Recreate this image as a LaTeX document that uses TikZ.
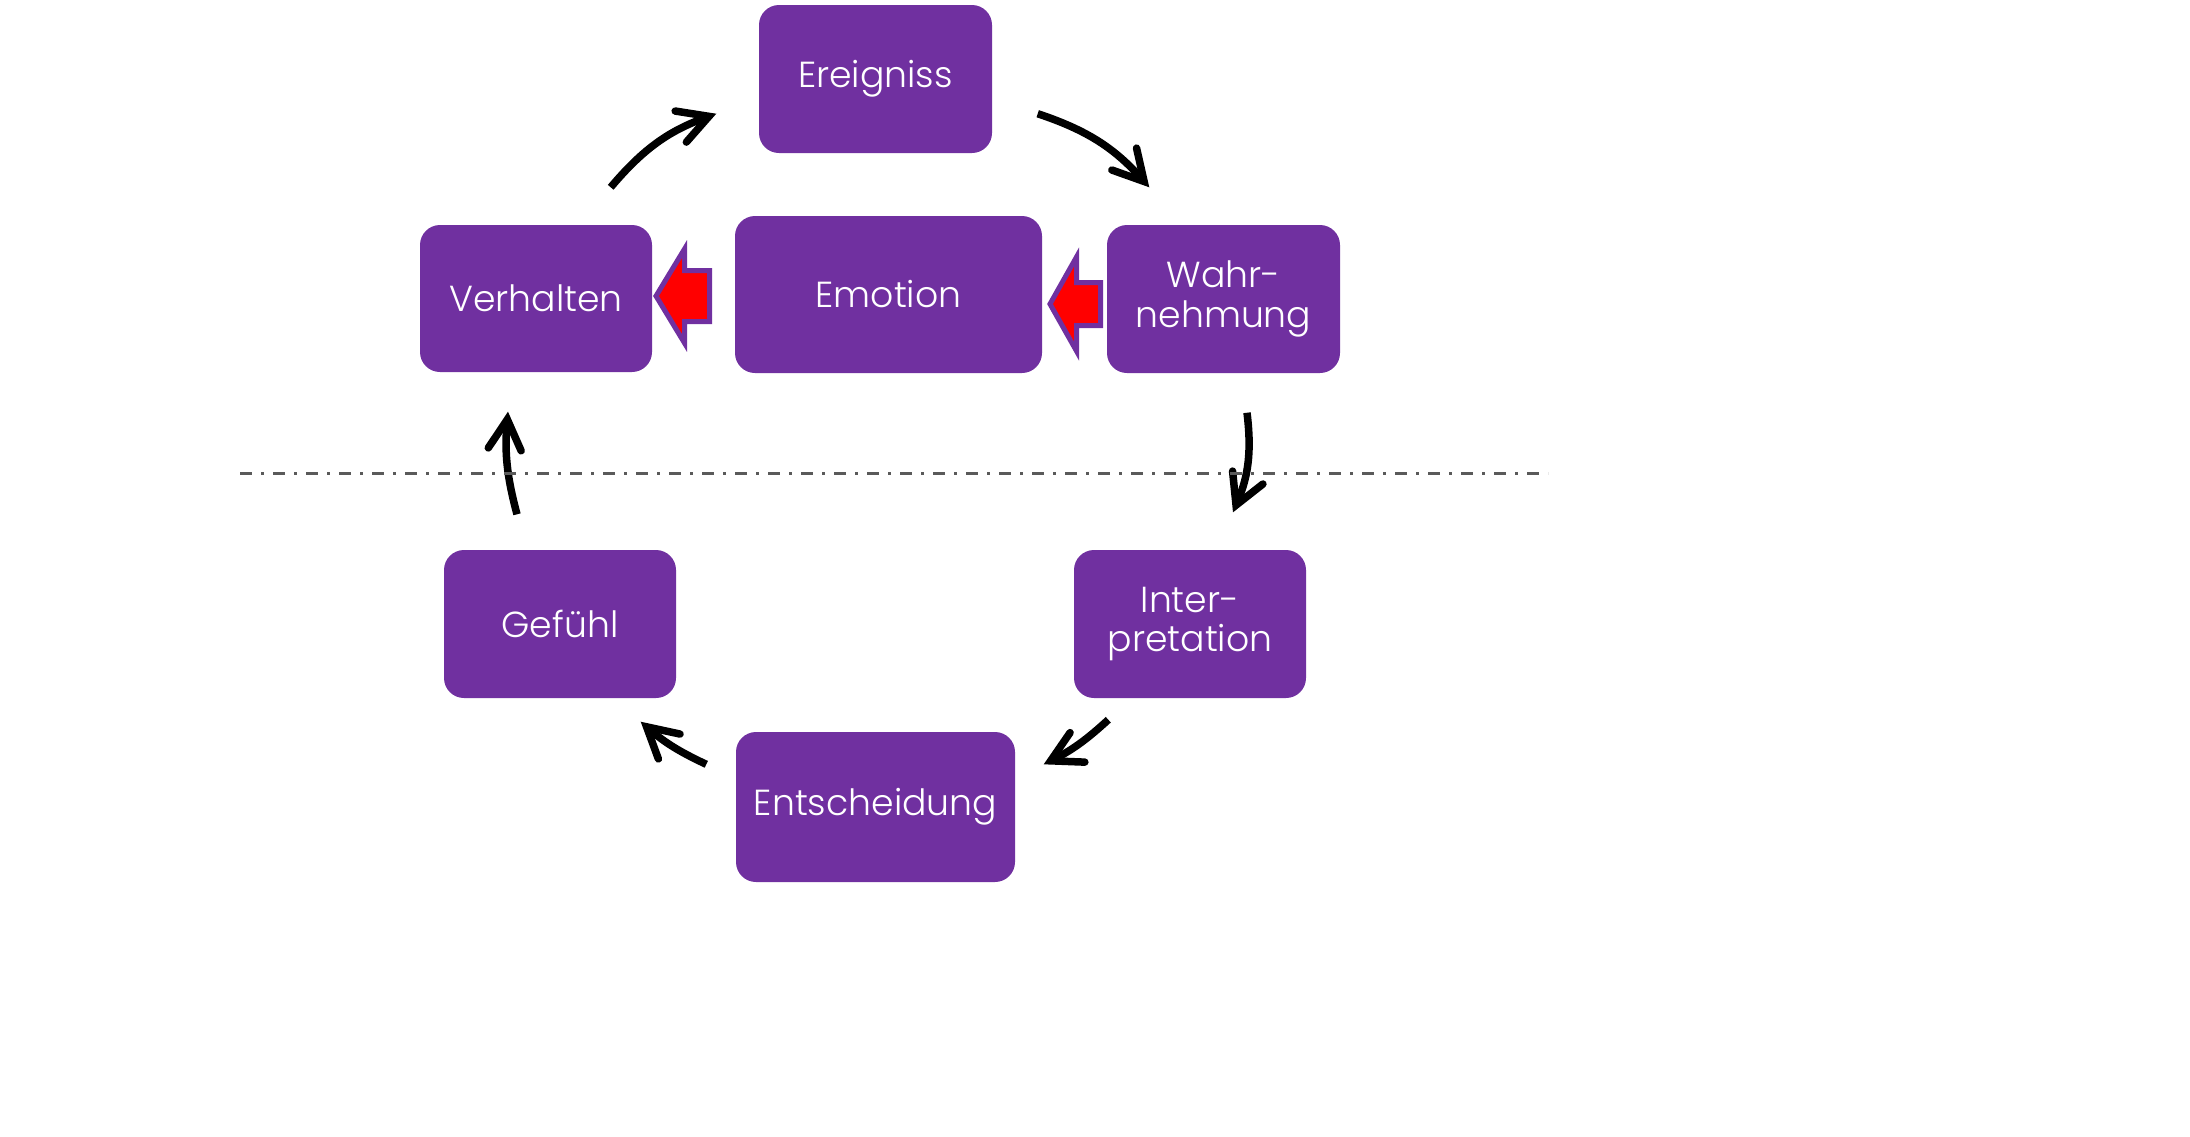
\documentclass[tikz,border=0pt]{standalone}
\usepackage{fontspec}
\setmainfont{Poppins}[UprightFont={* Light}]
\usetikzlibrary{arrows.meta,positioning}
\definecolor{boxpurple}{RGB}{112,48,160}
\definecolor{linegray}{RGB}{90,90,90}
\tikzset{
    box/.style={fill=boxpurple, rounded corners=2mm, text=white, align=center,
        inner sep=0pt, minimum height=1.48cm,
        font=\fontsize{10.3}{11.3}\selectfont},
    cyc/.style={line width=0.75mm,
        -{Straight Barb[length=3mm, width=3.3mm, line cap=round, line join=miter]}},
    blockarrow/.style={fill=red, draw=boxpurple, line width=0.5mm, line join=miter},
}
\begin{document}
\begin{tikzpicture}
    \useasboundingbox (0,0) rectangle (21.9,-11.36);
    \node[box, minimum width=2.33cm] (ereig) at (8.755,-0.79) {Ereigniss};
    \node[box, minimum width=2.32cm, minimum height=1.47cm] (verh) at (5.36,-2.985) {Verhalten};
    \node[box, minimum width=3.07cm, minimum height=1.57cm] (emo) at (8.885,-2.945) {Emotion};
    \node[box, minimum width=2.33cm] (wahr) at (12.235,-2.99) {Wahr-\\nehmung};
    \node[box, minimum width=2.32cm] (gef) at (5.60,-6.24) {Gefühl};
    \node[box, minimum width=2.32cm] (interp) at (11.90,-6.24) {Inter-\\pretation};
    \node[box, minimum width=2.79cm, minimum height=1.50cm] (entsch) at (8.755,-8.07) {Entscheidung};
    \draw[cyc] ([xshift=-4.2mm,yshift=3.7mm]verh.north east) to[bend left=15] ([xshift=-4.2mm,yshift=4mm]ereig.south west);
    \draw[cyc] ([xshift=4.5mm,yshift=4mm]ereig.south east) to[bend left=15] ([xshift=4.3mm,yshift=3.7mm]wahr.north west);
    \draw[cyc] ([xshift=2.35mm,yshift=-3.9mm]wahr.south) to[bend left=15] ([xshift=4.3mm,yshift=3.7mm]interp.north);
    \draw[cyc] ([xshift=3.5mm,yshift=-2.1mm]interp.south west) to[bend left=8] ([xshift=2.8mm,yshift=-3.3mm]entsch.north east);
    \draw[cyc] ([xshift=-2.9mm,yshift=-3.3mm]entsch.north west) to[bend left=8] ([xshift=-3.6mm,yshift=-2.3mm]gef.south east);
    \draw[cyc] ([xshift=-4.3mm,yshift=3.5mm]gef.north) to[bend left=10] ([xshift=-2.8mm,yshift=-3.9mm]verh.south);
    \foreach \tip/\hx/\tx/\cy/\sw in {6.56/6.845/7.095/-2.96/0.255, 10.50/10.765/11.005/-3.04/0.215}
        \draw[blockarrow] (\tip,\cy) -- (\hx,\cy+0.47) -- (\hx,\cy+\sw) -- (\tx,\cy+\sw)
            -- (\tx,\cy-\sw) -- (\hx,\cy-\sw) -- (\hx,\cy-0.47) -- cycle;
    \draw[linegray, line width=0.3mm, dash pattern=on 1.2mm off 0.9mm on 0.3mm off 0.9mm]
        (2.40,-4.73) -- (15.48,-4.73);
\end{tikzpicture}
\end{document}
